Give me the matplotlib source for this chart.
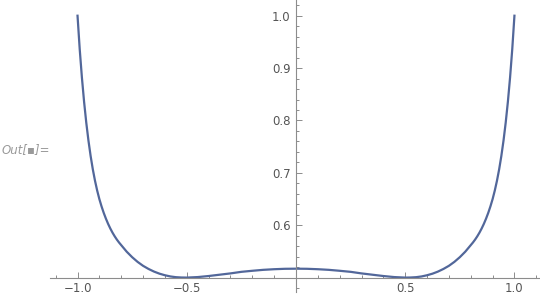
import matplotlib
matplotlib.use('Agg')
import matplotlib.pyplot as plt
from matplotlib.ticker import MultipleLocator, FixedLocator

# values (right half; the curve is symmetric)
x_right = [0.0, 0.05, 0.1, 0.15, 0.2, 0.25, 0.3, 0.35, 0.4, 0.45, 0.5, 0.525,
           0.55, 0.575, 0.6, 0.625, 0.65, 0.675, 0.7, 0.725, 0.75, 0.775, 0.8,
           0.81, 0.82, 0.83, 0.84, 0.85, 0.86, 0.87, 0.88, 0.89, 0.9,
           0.91, 0.92, 0.93, 0.94, 0.95, 0.96, 0.97, 0.98, 0.99, 1.0]
y_right = [0.517, 0.5168, 0.516, 0.5148, 0.513, 0.511, 0.508, 0.5055, 0.503,
           0.501, 0.500, 0.5002, 0.5008, 0.5022, 0.5045, 0.5075, 0.5115,
           0.5165, 0.5225, 0.530, 0.539, 0.5495, 0.562,
           0.567, 0.5726, 0.5789, 0.5859, 0.5938, 0.6026, 0.6125, 0.6235,
           0.6359, 0.6498,
           0.6661, 0.6849, 0.7067, 0.7321, 0.7616, 0.7959, 0.8358, 0.8822,
           0.9362, 1.0]

x_vals = [-v for v in x_right[:0:-1]] + x_right
y_vals = y_right[:0:-1] + y_right

x_major = [-1.0, -0.5, 0.5, 1.0]
y_major = [0.6, 0.7, 0.8, 0.9, 1.0]

axis_col = '#8c8c8c'
label_col = '#555555'

fig = plt.figure(figsize=(5.4, 2.98), dpi=100)
ax = fig.add_axes([50 / 540, 6 / 298, 490 / 540, 292 / 298])

ax.plot(x_vals, y_vals, color='#52679a', lw=1.6, solid_joinstyle='round')

ax.set_xlim(-1.126, 1.117)
ax.set_ylim(0.4725, 1.030)

ax.spines['left'].set_position(('data', 0))
ax.spines['bottom'].set_position(('data', 0.5))
ax.spines['top'].set_visible(False)
ax.spines['right'].set_visible(False)
for s in ('left', 'bottom'):
    ax.spines[s].set_color(axis_col)
    ax.spines[s].set_linewidth(0.8)

ax.xaxis.set_major_locator(FixedLocator(x_major))
ax.xaxis.set_minor_locator(MultipleLocator(0.1))
ax.yaxis.set_major_locator(FixedLocator(y_major))
ax.yaxis.set_minor_locator(MultipleLocator(0.02))
ax.set_xticklabels(['\u22121.0', '\u22120.5', '0.5', '1.0'])
ax.set_yticklabels(['%.1f' % v for v in y_major])

ax.tick_params(which='both', direction='in', color=axis_col, width=0.7,
               labelcolor=label_col, labelsize=8.5)
ax.tick_params(which='major', length=4)
ax.tick_params(which='minor', length=2.5)
ax.tick_params(axis='x', pad=3)
ax.tick_params(axis='y', pad=4)

fig.text(2 / 540, 1 - 150 / 298, 'Out[\u25aa]=', fontsize=8.5, style='italic',
         color='#999999', va='center', ha='left')

fig.savefig('out.png', dpi=100)
